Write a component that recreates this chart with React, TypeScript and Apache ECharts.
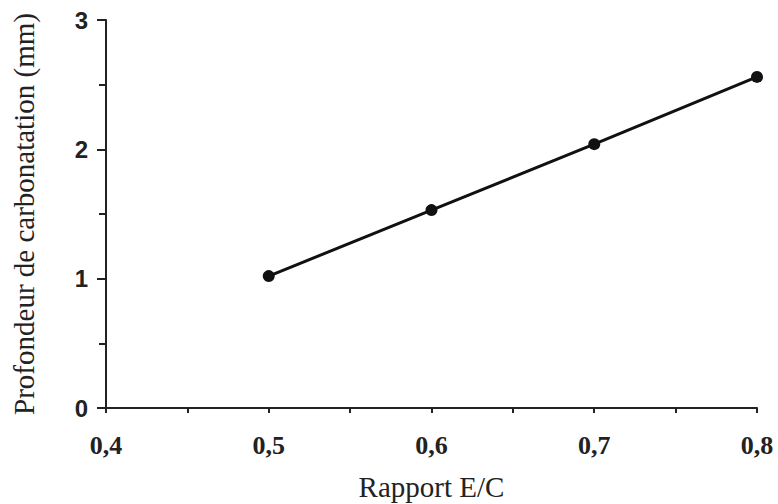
import React, { useEffect, useRef } from "react";
import * as echarts from "echarts";

const ratios = [0.5, 0.6, 0.7, 0.8];
const depths = [1.02, 1.53, 2.04, 2.56];
const xTitle = "Rapport E/C";
const yTitle = "Profondeur de carbonatation (mm)";

export default function App() {
  const ref = useRef<HTMLDivElement>(null);
  useEffect(() => {
    const chart = echarts.init(ref.current!, null, { renderer: "svg" });
    chart.setOption({
      animation: false,
      backgroundColor: "#ffffff",
      grid: { left: 106, right: 21, top: 20, bottom: 96, containLabel: false, outerBoundsMode: "none" },
      xAxis: {
        type: "value",
        min: 0.4,
        max: 0.8,
        interval: 0.1,
        name: xTitle,
        nameLocation: "middle",
        nameGap: 64,
        nameTextStyle: { fontFamily: "Liberation Serif", fontSize: 29, color: "#222" },
        axisLine: { lineStyle: { color: "#222", width: 2 } },
        axisTick: { show: true, length: 5, lineStyle: { color: "#222", width: 2 } },
        minorTick: { show: true, splitNumber: 2, length: 5, lineStyle: { color: "#222", width: 2 } },
        splitLine: { show: false },
        axisLabel: {
          margin: 24,
          fontFamily: "Liberation Serif",
          fontWeight: "bold",
          fontSize: 26,
          color: "#222",
          formatter: (v: number) => v.toFixed(1).replace(".", ","),
        },
      },
      yAxis: {
        type: "value",
        min: 0,
        max: 3,
        interval: 1,
        name: yTitle,
        nameLocation: "middle",
        nameGap: 68,
        nameTextStyle: { fontFamily: "Liberation Serif", fontSize: 29, color: "#222" },
        axisLine: { show: true, lineStyle: { color: "#222", width: 2 } },
        axisTick: { show: true, length: 9, lineStyle: { color: "#222", width: 2 } },
        minorTick: { show: true, splitNumber: 2, length: 7, lineStyle: { color: "#222", width: 2 } },
        splitLine: { show: false },
        axisLabel: {
          margin: 18,
          fontFamily: "Liberation Sans",
          fontWeight: "bold",
          fontSize: 24,
          color: "#222",
        },
      },
      series: [
        {
          type: "line",
          data: ratios.map((r, i) => [r, depths[i]]),
          symbol: "circle",
          symbolSize: 12,
          itemStyle: { color: "#111" },
          lineStyle: { color: "#111", width: 3 },
        },
      ],
    });
    return () => chart.dispose();
  }, []);
  return <div ref={ref} style={{ width: 778, height: 504, position: "absolute", left: 0, top: 0 }} />;
}
